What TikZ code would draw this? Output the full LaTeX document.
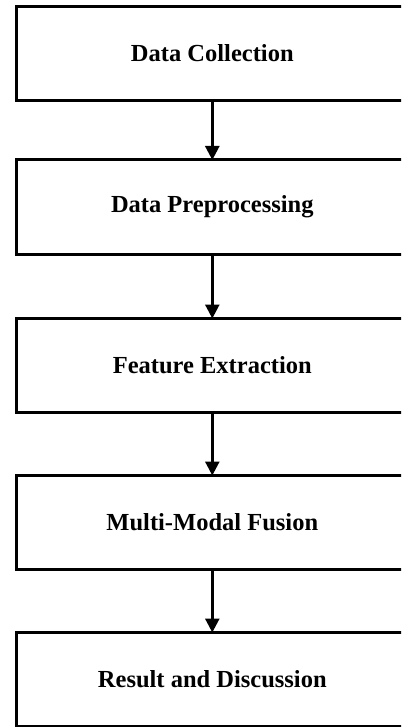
\documentclass[tikz,border=0pt]{standalone}
\usepackage{fontspec}
\setmainfont{Liberation Serif}
\usetikzlibrary{arrows.meta}
\begin{document}
\begin{tikzpicture}[x=1pt,y=-1pt,
  box/.style={draw=black, line width=3pt, minimum width=391pt, minimum height=94pt,
    inner sep=0pt, font=\bfseries\fontsize{24.5}{28}\selectfont},
  flow/.style={line width=2.6pt, -{Triangle[width=14pt,length=14pt]}, shorten >=-1.5pt}]
\useasboundingbox (0,0) rectangle (401,727);
\clip (0,0) rectangle (401,727);
\node[box] (b1) at (212.3,53.5) {Data Collection};
\node[box] (b2) at (212.3,207) {Data Preprocessing};
\node[box] (b3) at (212.3,365.5) {Feature Extraction};
\node[box] (b4) at (212.3,522.5) {Multi-Modal Fusion};
\node[box] (b5) at (212.3,679.5) {Result and Discussion};
\draw[flow] (b1.south) -- (b2.north);
\draw[flow] (b2.south) -- (b3.north);
\draw[flow] (b3.south) -- (b4.north);
\draw[flow] (b4.south) -- (b5.north);
\end{tikzpicture}
\end{document}
